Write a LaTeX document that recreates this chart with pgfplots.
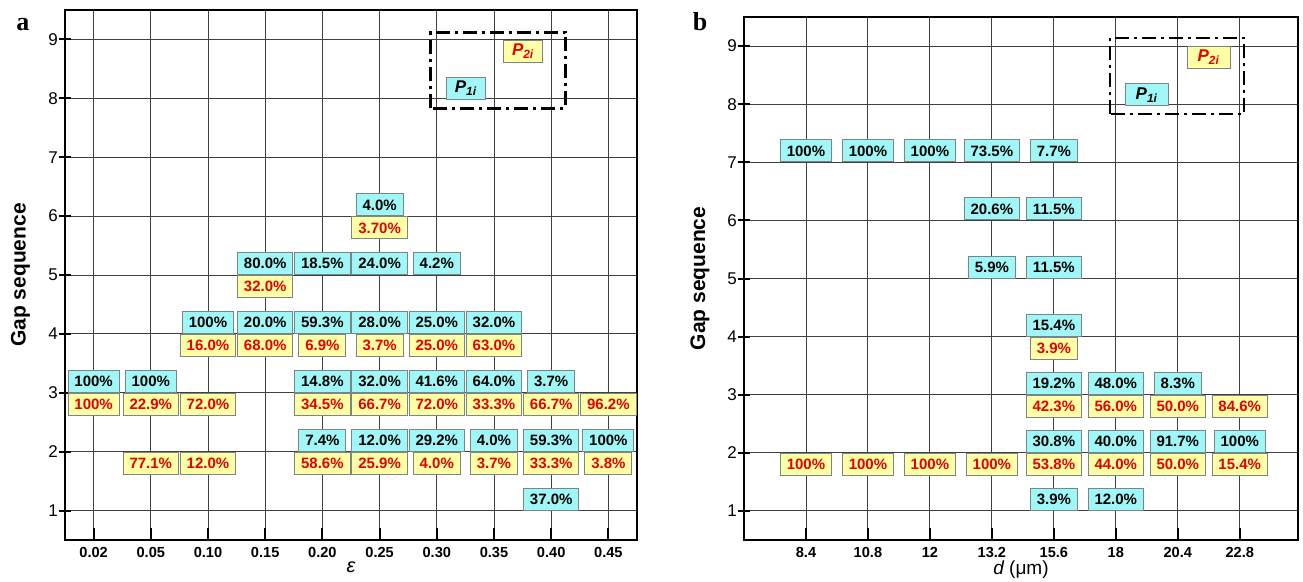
\documentclass[border=0pt]{standalone}
\usepackage{pgfplots}
\pgfplotsset{compat=1.18}
\usepackage{pgfplotstable}
\usepackage{fontspec}
\setmainfont{Liberation Sans}
\newfontfamily\timesfont{Liberation Serif}
\definecolor{boxcyan}{HTML}{9FF7F7}
\definecolor{boxyellow}{HTML}{FFFFA6}
\definecolor{boxedge}{HTML}{7A8585}
\definecolor{txtred}{HTML}{E60000}
\definecolor{gridc}{HTML}{404040}

% Panel a: P1i (cyan)
\pgfplotstableread{
x y lab
0 3 100
1 3 100
2 4 100
3 5 80.0
3 4 20.0
4 5 18.5
4 4 59.3
4 3 14.8
4 2 7.4
5 6 4.0
5 5 24.0
5 4 28.0
5 3 32.0
5 2 12.0
6 5 4.2
6 4 25.0
6 3 41.6
6 2 29.2
7 4 32.0
7 3 64.0
7 2 4.0
8 3 3.7
8 2 59.3
8 1 37.0
9 2 100
}\Acyan
% Panel a: P2i (yellow)
\pgfplotstableread{
x y lab
0 3 100
1 3 22.9
1 2 77.1
2 4 16.0
2 3 72.0
2 2 12.0
3 5 32.0
3 4 68.0
4 4 6.9
4 3 34.5
4 2 58.6
5 6 3.70
5 4 3.7
5 3 66.7
5 2 25.9
6 4 25.0
6 3 72.0
6 2 4.0
7 4 63.0
7 3 33.3
7 2 3.7
8 3 66.7
8 2 33.3
9 3 96.2
9 2 3.8
}\Ayellow
% Panel b: P1i (cyan)
\pgfplotstableread{
x y lab
0 7 100
1 7 100
2 7 100
3 7 73.5
3 6 20.6
3 5 5.9
4 7 7.7
4 6 11.5
4 5 11.5
4 4 15.4
4 3 19.2
4 2 30.8
4 1 3.9
5 3 48.0
5 2 40.0
5 1 12.0
6 3 8.3
6 2 91.7
7 2 100
}\Bcyan
% Panel b: P2i (yellow)
\pgfplotstableread{
x y lab
0 2 100
1 2 100
2 2 100
3 2 100
4 4 3.9
4 3 42.3
4 2 53.8
5 3 56.0
5 2 44.0
6 3 50.0
6 2 50.0
7 3 84.6
7 2 15.4
}\Byellow

\tikzset{
  legbox/.style={draw=boxedge, line width=0.5pt, minimum height=11pt, inner sep=0pt,
      font=\bfseries\itshape\fontsize{8.5}{10}\selectfont},
  dashdotrect/.style={black, line width=1.2pt, dash pattern=on 7pt off 2.5pt on 1.5pt off 2.5pt},
}
\pgfplotsset{
  gapaxis/.style={
    scale only axis, clip=false,
    axis line style={line width=1.2pt, black},
    xmajorgrids, ymajorgrids,
    major grid style={gridc, line width=0.45pt},
    ymin=0.5, ymax=9.5,
    ytick={1,2,3,4,5,6,7,8,9},
    yticklabels={1,2,3,4,5,6,7,8,9},
    tick pos=left, tick align=inside, major tick length=6pt,
    tick style={black, line width=1pt},
    ytick style={xshift=-3pt},
    yticklabel style={font=\fontsize{8.5}{10}\selectfont},
    xticklabel style={font=\bfseries\fontsize{7.3}{9}\selectfont},
    ylabel={Gap sequence},
    ylabel style={font=\bfseries\fontsize{10.5}{12}\selectfont},
  },
  cyanbox/.style={draw=none, point meta=explicit symbolic,
    nodes near coords={\pgfplotspointmeta\%},
    every node near coord/.append style={anchor=south, fill=boxcyan, draw=boxedge,
      line width=0.5pt, text=black, font=\bfseries\fontsize{7.5}{9}\selectfont,
      inner xsep=3.2pt, inner ysep=2.8pt, text height=5.4pt, text depth=0pt}},
  yellowbox/.style={draw=none, point meta=explicit symbolic,
    nodes near coords={\pgfplotspointmeta\%},
    every node near coord/.append style={anchor=north, fill=boxyellow, draw=boxedge,
      line width=0.5pt, text=txtred, font=\bfseries\fontsize{7.5}{9}\selectfont,
      inner xsep=3.2pt, inner ysep=2.8pt, text height=5.4pt, text depth=0pt}},
}

\begin{document}
\begin{tikzpicture}
\path[use as bounding box] (0pt,0pt) rectangle (651.5pt,-291pt);

\node[font=\timesfont\bfseries\fontsize{13}{15}\selectfont] at (11.5pt,-12.5pt) {a};
\node[font=\timesfont\bfseries\fontsize{13}{15}\selectfont] at (350pt,-11pt) {b};

\begin{axis}[gapaxis, at={(32.5pt,-270pt)}, anchor=south west,
  width=286pt, height=265pt,
  xmin=-0.5, xmax=9.5, xtick={0,1,2,3,4,5,6,7,8,9},
  xticklabels={0.02,0.05,0.10,0.15,0.20,0.25,0.30,0.35,0.40,0.45},
  xlabel={\itshape ε},
  xlabel style={font=\fontsize{10}{12}\selectfont, at={(axis description cs:0.5,-0.051)}, anchor=center},
  ylabel style={at={(axis description cs:-0.078,0.5)}, anchor=center}]
\addplot[cyanbox] table[x=x, y=y, meta=lab] {\Acyan};
\addplot[yellowbox] table[x=x, y=y, meta=lab] {\Ayellow};
\draw[dashdotrect] (axis cs:5.89,7.83) rectangle (axis cs:8.25,9.12);
\node[legbox, fill=boxcyan, text=black, minimum width=19.5pt] at (axis cs:6.51,8.17) {P\textsubscript{1i}};
\node[legbox, fill=boxyellow, text=txtred, minimum width=19.5pt] at (axis cs:7.51,8.80) {P\textsubscript{2i}};
\end{axis}

\begin{axis}[gapaxis, at={(372pt,-270pt)}, anchor=south west,
  width=277pt, height=261.5pt,
  xmin=-1, xmax=7.94, xtick={0,1,2,3,4,5,6,7},
  xticklabels={8.4,10.8,12,13.2,15.6,18,20.4,22.8},
  xlabel={{\itshape d} (μm)},
  xlabel style={font=\fontsize{9.5}{11}\selectfont, at={(axis description cs:0.5,-0.057)}, anchor=center},
  ylabel style={at={(axis description cs:-0.0794,0.5)}, anchor=center}]
\addplot[cyanbox] table[x=x, y=y, meta=lab] {\Bcyan};
\addplot[yellowbox] table[x=x, y=y, meta=lab] {\Byellow};
\draw[dashdotrect] (axis cs:4.91,7.83) rectangle (axis cs:7.07,9.14);
\node[legbox, fill=boxcyan, text=black, minimum width=21.5pt] at (axis cs:5.50,8.16) {P\textsubscript{1i}};
\node[legbox, fill=boxyellow, text=txtred, minimum width=21.5pt] at (axis cs:6.50,8.81) {P\textsubscript{2i}};
\end{axis}
\end{tikzpicture}
\end{document}
